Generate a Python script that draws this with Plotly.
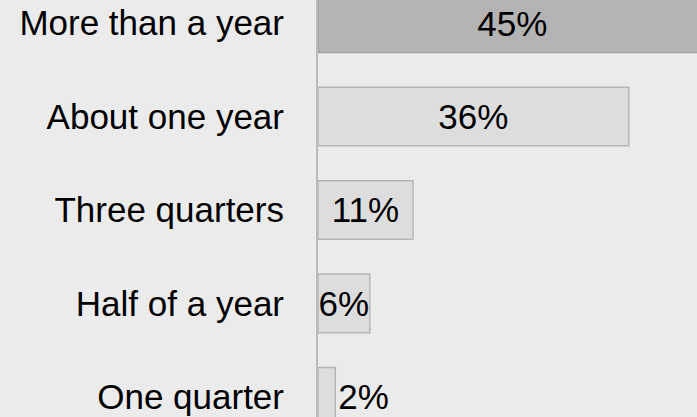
import plotly.graph_objects as go

categories = ["More than a year", "About one year", "Three quarters", "Half of a year", "One quarter"]
values = [45, 36, 11, 6, 2]
labels = ["45%", "36%", "11%", "6%", "2%"]
fill_colors = ["#b3b3b3", "#dddddd", "#dddddd", "#dddddd", "#dddddd"]
line_colors = ["#a3a3a3", "#b5b5b5", "#b5b5b5", "#b5b5b5", "#b5b5b5"]
text_positions = ["inside", "inside", "inside", "inside", "outside"]

fig = go.Figure(
    go.Bar(
        x=values,
        y=categories,
        orientation="h",
        text=labels,
        textposition=text_positions,
        textangle=0,
        insidetextanchor="middle",
        constraintext="none",
        cliponaxis=True,
        textfont=dict(family="Liberation Sans, Arial, sans-serif", size=35, color="#000000"),
        marker=dict(color=fill_colors, line=dict(color=line_colors, width=1.5)),
        width=0.627,
        hoverinfo="skip",
    )
)

fig.update_layout(
    width=697,
    height=417,
    margin=dict(l=318, r=0, t=0, b=0),
    paper_bgcolor="#ebebeb",
    plot_bgcolor="#ebebeb",
    showlegend=False,
    font=dict(family="Liberation Sans, Arial, sans-serif", size=35, color="#000000"),
)
fig.update_xaxes(
    range=[0, 43.9],
    showticklabels=False,
    showgrid=False,
    zeroline=False,
    ticks="",
    fixedrange=True,
)
fig.update_yaxes(
    type="category",
    categoryorder="array",
    categoryarray=categories,
    range=[4.216, -0.248],
    showgrid=False,
    zeroline=False,
    showline=True,
    linecolor="#bbbbbb",
    linewidth=2,
    ticks="",
    ticklabelstandoff=25,
    tickfont=dict(family="Liberation Sans, Arial, sans-serif", size=35, color="#000000"),
    fixedrange=True,
)

fig.write_html("out.html")
